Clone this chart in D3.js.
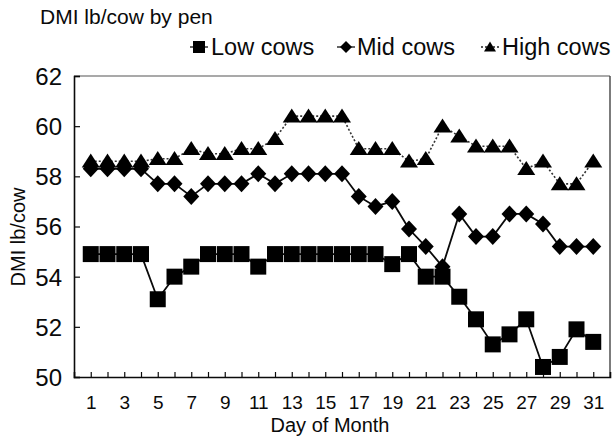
<!DOCTYPE html>
<html>
<head>
<meta charset="utf-8">
<script src="https://cdn.jsdelivr.net/npm/d3@7"></script>
<style>
  html, body { margin: 0; padding: 0; background: #fff; }
  svg { display: block; font-family: "Liberation Sans", Arial, sans-serif; }
</style>
</head>
<body>
<svg id="chart" width="616" height="441"></svg>
<script>
// Daily dry matter intake (lb/cow) for each pen
const days = d3.range(1, 32);
const lowCows = [54.9, 54.9, 54.9, 54.9, 53.1, 54.0, 54.4, 54.9, 54.9, 54.9,
                 54.4, 54.9, 54.9, 54.9, 54.9, 54.9, 54.9, 54.9, 54.5, 54.9,
                 54.0, 54.0, 53.2, 52.3, 51.3, 51.7, 52.3, 50.4, 50.8, 51.9, 51.4];
const midCows = [58.3, 58.3, 58.3, 58.3, 57.7, 57.7, 57.2, 57.7, 57.7, 57.7,
                 58.1, 57.7, 58.1, 58.1, 58.1, 58.1, 57.2, 56.8, 57.0, 55.9,
                 55.2, 54.4, 56.5, 55.6, 55.6, 56.5, 56.5, 56.1, 55.2, 55.2, 55.2];
const highCows = [58.6, 58.6, 58.6, 58.6, 58.7, 58.7, 59.1, 58.9, 58.9, 59.1,
                  59.1, 59.5, 60.4, 60.4, 60.4, 60.4, 59.1, 59.1, 59.1, 58.6,
                  58.7, 60.0, 59.6, 59.2, 59.2, 59.2, 58.3, 58.6, 57.7, 57.7, 58.6];
const seriesNames = ["Low cows", "Mid cows", "High cows"];
const yTicks = [50, 52, 54, 56, 58, 60, 62];
const xTickLabels = d3.range(1, 32, 2);

const svg = d3.select("#chart");
const plotLeft = 74, plotRight = 610, plotTop = 76, plotBottom = 377;
const ink = "#0a0a0a";

const x = d3.scaleLinear().domain([0, 32]).range([plotLeft, plotRight]);
const y = d3.scaleLinear().domain([50, 62]).range([plotBottom, plotTop]);

// Plot frame: heavy left/bottom axes, light top/right border
svg.append("line").attr("x1", plotLeft).attr("x2", plotRight).attr("y1", plotTop).attr("y2", plotTop)
  .attr("stroke", "#555").attr("stroke-width", 1.2);
svg.append("line").attr("x1", plotRight).attr("x2", plotRight).attr("y1", plotTop).attr("y2", plotBottom)
  .attr("stroke", "#444").attr("stroke-width", 1.4);

// Y axis with inward ticks
const yAxis = d3.axisLeft(y).tickValues(yTicks).tickSize(-6).tickPadding(14);
const gy = svg.append("g").attr("transform", `translate(${plotLeft},0)`).call(yAxis);
gy.select(".domain").attr("stroke", ink).attr("stroke-width", 1.6);
gy.selectAll(".tick line").attr("stroke", ink).attr("stroke-width", 1.2);
gy.selectAll(".tick text").attr("font-size", 24).attr("fill", ink)
  .attr("font-family", "Liberation Sans, Arial, sans-serif").attr("x", -12).attr("dy", "0.35em");

// X axis: a tick every day, label every other day
const xAxis = d3.axisBottom(x).tickValues(days).tickSize(-5).tickPadding(19)
  .tickFormat(d => xTickLabels.includes(d) ? d : "");
const gx = svg.append("g").attr("transform", `translate(0,${plotBottom})`).call(xAxis);
gx.select(".domain").attr("stroke", ink).attr("stroke-width", 1.6);
gx.selectAll(".tick line").attr("stroke", ink).attr("stroke-width", 1.2);
gx.selectAll(".tick text").attr("font-size", 19).attr("fill", ink)
  .attr("font-family", "Liberation Sans, Arial, sans-serif");

// Axis titles
svg.append("text").attr("x", 330).attr("y", 432)
  .attr("text-anchor", "middle").attr("font-size", 20).attr("fill", ink)
  .text("Day of Month");
svg.append("text").attr("transform", `translate(25,237) rotate(-90)`)
  .attr("text-anchor", "middle").attr("font-size", 20).attr("fill", ink)
  .text("DMI lb/cow");

// Chart title
svg.append("text").attr("x", 40).attr("y", 24).attr("font-size", 21).attr("fill", ink)
  .text("DMI lb/cow by pen");

function diamondPath(cx, cy, w, h) {
  return `M${cx},${cy - h / 2}L${cx + w / 2},${cy}L${cx},${cy + h / 2}L${cx - w / 2},${cy}Z`;
}
function trianglePath(cx, cy, w, h) {
  return `M${cx},${cy - h * 0.55}L${cx + w / 2},${cy + h * 0.45}L${cx - w / 2},${cy + h * 0.45}Z`;
}
function squarePath(cx, cy, s) {
  return `M${cx - s / 2},${cy - s / 2}h${s}v${s}h${-s}Z`;
}

const line = d3.line().x((d, i) => x(days[i])).y(d => y(d));

// High cows: dotted connector
svg.append("path").datum(highCows).attr("d", line)
  .attr("fill", "none").attr("stroke", "#333").attr("stroke-width", 1.6)
  .attr("stroke-dasharray", "2,2");
// Mid cows: solid connector
svg.append("path").datum(midCows).attr("d", line)
  .attr("fill", "none").attr("stroke", ink).attr("stroke-width", 1.8);
// Low cows: solid connector
svg.append("path").datum(lowCows).attr("d", line)
  .attr("fill", "none").attr("stroke", ink).attr("stroke-width", 1.8);

svg.append("g").selectAll("path").data(highCows).join("path")
  .attr("d", (d, i) => trianglePath(x(days[i]), y(d), 18, 14)).attr("fill", "#000");
svg.append("g").selectAll("path").data(midCows).join("path")
  .attr("d", (d, i) => diamondPath(x(days[i]), y(d), 16, 17)).attr("fill", "#000");
svg.append("g").selectAll("path").data(lowCows).join("path")
  .attr("d", (d, i) => squarePath(x(days[i]), y(d), 16)).attr("fill", "#000");

// Legend
const legendItems = [
  { name: seriesNames[0], mx: 199, tx: 211, shape: "square", dash: null },
  { name: seriesNames[1], mx: 346, tx: 357, shape: "diamond", dash: null },
  { name: seriesNames[2], mx: 490, tx: 502, shape: "triangle", dash: "2,2" }
];
const ly = 47;
const lg = svg.append("g");
legendItems.forEach(it => {
  lg.append("line").attr("x1", it.mx - 9).attr("x2", it.mx + 9).attr("y1", ly).attr("y2", ly)
    .attr("stroke", "#222").attr("stroke-width", 1.4)
    .attr("stroke-dasharray", it.dash);
  let d;
  if (it.shape === "square") d = squarePath(it.mx, ly, 12);
  else if (it.shape === "diamond") d = diamondPath(it.mx, ly, 12, 12);
  else d = trianglePath(it.mx, ly, 12, 10);
  lg.append("path").attr("d", d).attr("fill", "#000");
  lg.append("text").attr("x", it.tx).attr("y", ly + 8).attr("font-size", 23.5)
    .attr("fill", ink).text(it.name);
});
</script>
</body>
</html>
